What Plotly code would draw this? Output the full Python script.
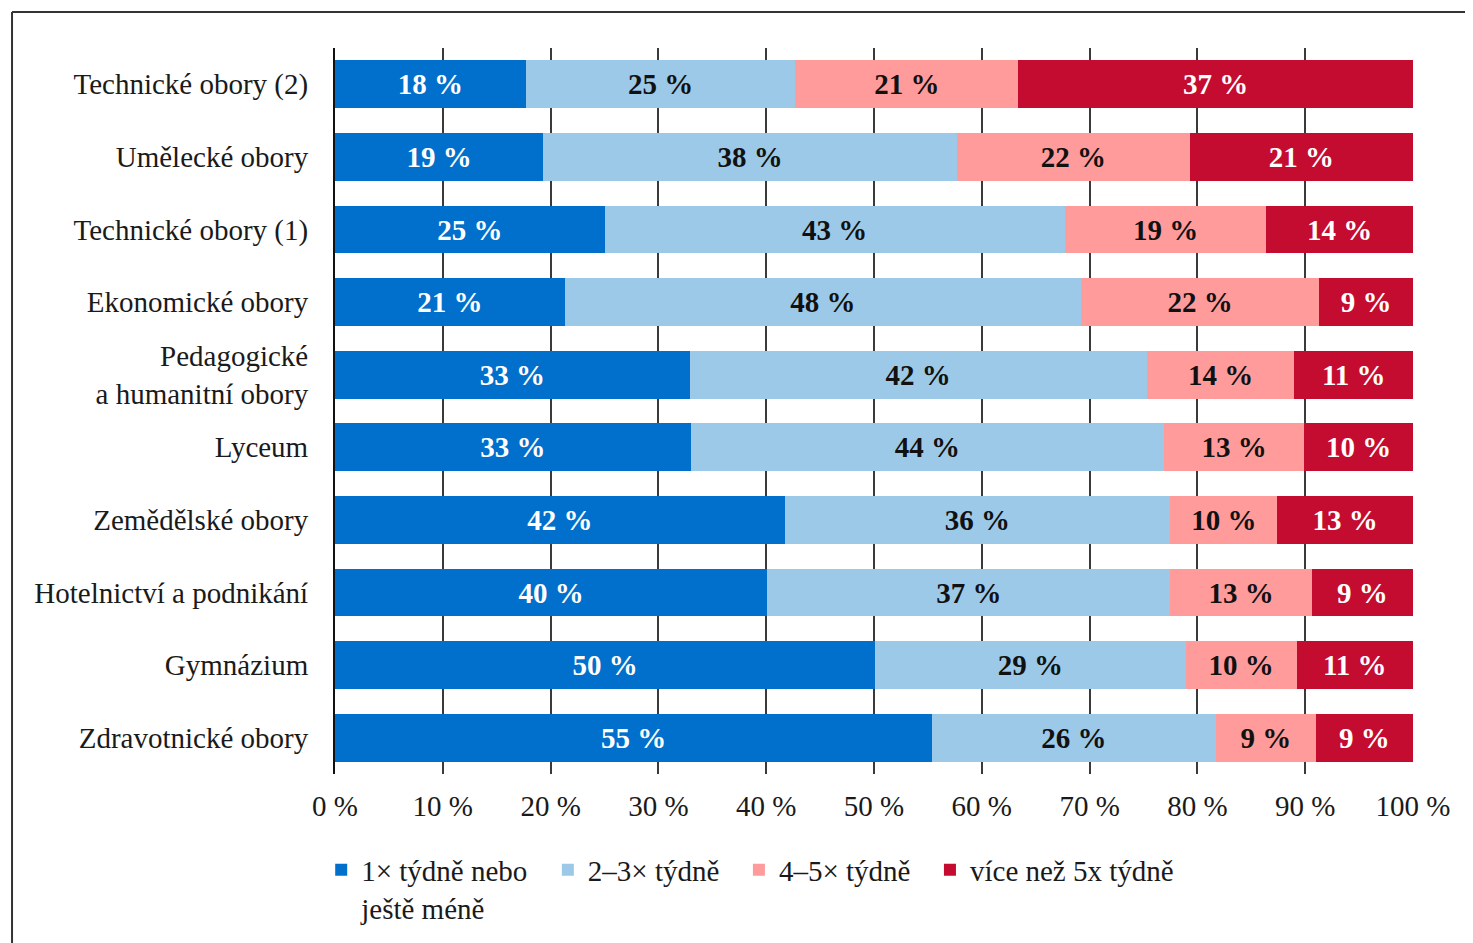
import plotly.graph_objects as go

categories = [
    "Technické obory (2)",
    "Umělecké obory",
    "Technické obory (1)",
    "Ekonomické obory",
    "Pedagogické<br>a humanitní obory",
    "Lyceum",
    "Zemědělské obory",
    "Hotelnictví a podnikání",
    "Gymnázium",
    "Zdravotnické obory",
]

series_names = ["1× týdně nebo<br>ještě méně", "2–3× týdně", "4–5× týdně", "více než 5x týdně"]

v_1x = [17.7, 19.3, 25.0, 21.3, 32.9, 33.0, 41.7, 40.1, 50.1, 55.4]
v_2_3 = [25.0, 38.4, 42.7, 47.9, 42.4, 43.9, 35.8, 37.4, 28.8, 26.3]
v_4_5 = [20.7, 21.6, 18.7, 22.1, 13.7, 13.0, 9.9, 13.1, 10.3, 9.3]
v_5plus = [36.6, 20.7, 13.6, 8.7, 11.0, 10.1, 12.6, 9.4, 10.8, 9.0]

x_ticks = [0, 10, 20, 30, 40, 50, 60, 70, 80, 90, 100]

colors = ["#0070CC", "#9DC9E8", "#FF9B9B", "#C40C30"]
text_colors = ["white", "#111111", "#111111", "white"]

FONT = "Liberation Serif"
PAD = "\u00a0\u00a0"

def legend_label(name):
    lines = name.split("<br>")
    lines[0] = lines[0] + PAD
    return "<br>".join(lines)

fig = go.Figure()
for name, vals, col, tcol in zip(series_names, [v_1x, v_2_3, v_4_5, v_5plus], colors, text_colors):
    fig.add_trace(go.Bar(
        y=categories, x=vals, name=legend_label(name), orientation="h",
        marker=dict(color=col, line=dict(width=0)),
        texttemplate="<b>%{x:.0f} %</b>", textposition="inside",
        insidetextanchor="middle",
        textfont=dict(family=FONT, size=29, color=tcol),
        hoverinfo="skip",
    ))

fig.update_layout(
    barmode="stack",
    bargap=0.34,
    width=1465, height=935,
    margin=dict(l=327, r=60, t=40, b=169, autoexpand=False),
    paper_bgcolor="white", plot_bgcolor="white",
    font=dict(family=FONT, size=29, color="#1a1a1a"),
    showlegend=True,
    legend=dict(
        orientation="h", x=-0.0128, xanchor="left", y=-0.097, yanchor="top",
        font=dict(family=FONT, size=29, color="#1a1a1a"),
        valign="top", traceorder="normal", itemwidth=30,
        bgcolor="rgba(0,0,0,0)",
    ),
    shapes=[
        dict(type="line", xref="paper", yref="paper", x0=-0.2996, x1=1.2,
             y0=1.0496, y1=1.0496, line=dict(color="#333333", width=2)),
        dict(type="line", xref="paper", yref="paper", x0=-0.2996, x1=-0.2996,
             y0=-0.5, y1=1.0496, line=dict(color="#333333", width=2)),
    ],
)

fig.update_xaxes(
    range=[0, 100], tickmode="array", tickvals=x_ticks,
    ticktext=[f"{t} %" for t in x_ticks],
    showgrid=True, gridcolor="#3a3a3a", gridwidth=2,
    zeroline=False, showline=False, ticks="", automargin=False,
    ticklabelstandoff=12,
    tickfont=dict(family=FONT, size=29, color="#1a1a1a"),
)
fig.update_yaxes(
    autorange="reversed", showline=True, linecolor="#111111", linewidth=2,
    showgrid=False, ticks="", ticklabelstandoff=19, automargin=False,
    tickfont=dict(family=FONT, size=29, color="#1a1a1a"),
)

fig.write_html("out.html")
